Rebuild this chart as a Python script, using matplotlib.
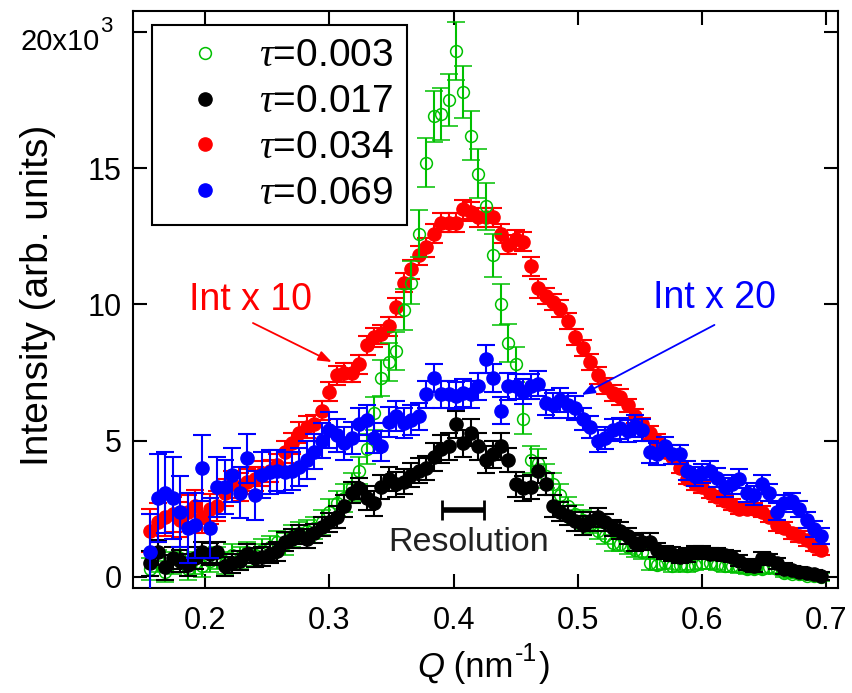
import matplotlib
matplotlib.use("Agg")
import matplotlib.pyplot as plt
from matplotlib.lines import Line2D

plt.rcParams['font.family'] = ['Liberation Sans', 'DejaVu Sans']
plt.rcParams['mathtext.fontset'] = 'custom'
plt.rcParams['mathtext.rm'] = 'Liberation Sans'
plt.rcParams['mathtext.it'] = 'Liberation Serif:italic'
plt.rcParams['mathtext.sf'] = 'Liberation Sans:italic'

Q = [0.156, 0.162, 0.168, 0.174, 0.180, 0.186, 0.192, 0.198, 0.204, 0.210,
     0.216, 0.222, 0.228, 0.234, 0.240, 0.246, 0.252, 0.258, 0.264, 0.270,
     0.276, 0.282, 0.288, 0.294, 0.300, 0.306, 0.312, 0.318, 0.324, 0.330,
     0.336, 0.342, 0.348, 0.354, 0.360, 0.366, 0.372, 0.378, 0.384, 0.390,
     0.396, 0.402, 0.408, 0.414, 0.420, 0.426, 0.432, 0.438, 0.444, 0.450,
     0.456, 0.462, 0.468, 0.474, 0.480, 0.486, 0.492, 0.498, 0.504, 0.510,
     0.516, 0.522, 0.528, 0.534, 0.540, 0.546, 0.552, 0.558, 0.564, 0.570,
     0.576, 0.582, 0.588, 0.594, 0.600, 0.606, 0.612, 0.618, 0.624, 0.630,
     0.636, 0.642, 0.648, 0.654, 0.660, 0.666, 0.672, 0.678, 0.684, 0.690,
     0.696]

# intensities in units of 10^3
I_003 = [0.3, 0.6, 0.2, 0.5, 0.7, 0.3, 0.5, 0.4, 0.6, 0.7,
         0.5, 0.8, 0.7, 0.9, 0.8, 1.0, 1.1, 1.3, 1.2, 1.5,
         1.6, 1.7, 1.8, 2.0, 2.4, 2.7, 2.9, 3.3, 3.9, 4.7,
         6.0, 7.3, 7.9, 8.3, 9.8, 10.8, 12.6, 15.2, 16.9, 17.0,
         17.5, 19.3, 17.8, 16.2, 14.8, 13.6, 11.8, 10.0, 8.6, 7.8,
         5.8, 4.3, 4.2, 3.7, 3.4, 3.0, 2.6, 2.3, 2.1, 1.9,
         1.7, 1.5, 1.25, 1.2, 1.1, 1.0, 0.9, 0.5, 0.45, 0.5,
         0.4, 0.45, 0.4, 0.45, 0.5, 0.5, 0.45, 0.4, 0.4, 0.35,
         0.3, 0.3, 0.3, 0.35, 0.3, 0.15, 0.1, 0.1, 0.05, 0.05, 0.0]
E_003 = [0.4, 0.4, 0.4, 0.4, 0.4, 0.4, 0.4, 0.4, 0.4, 0.4,
         0.4, 0.4, 0.4, 0.4, 0.4, 0.4, 0.4, 0.4, 0.4, 0.4,
         0.4, 0.4, 0.4, 0.45, 0.45, 0.45, 0.5, 0.5, 0.5, 0.55,
         0.6, 0.65, 0.7, 0.7, 0.75, 0.8, 0.85, 0.9, 0.95, 0.95,
         0.95, 1.05, 0.95, 0.9, 0.9, 0.85, 0.8, 0.75, 0.7, 0.65,
         0.55, 0.5, 0.5, 0.45, 0.4, 0.4, 0.35, 0.35, 0.35, 0.3,
         0.3, 0.3, 0.3, 0.25, 0.25, 0.25, 0.25, 0.25, 0.2, 0.2,
         0.2, 0.2, 0.2, 0.2, 0.2, 0.2, 0.2, 0.2, 0.2, 0.2,
         0.2, 0.2, 0.2, 0.2, 0.2, 0.15, 0.15, 0.15, 0.15, 0.15, 0.15]

I_017 = [0.5, 0.9, 0.35, 0.7, 0.6, 0.45, 0.7, 0.9, 0.85, 0.9,
         0.4, 0.5, 0.6, 0.85, 0.7, 0.75, 0.85, 0.95, 1.3, 1.4,
         1.55, 1.4, 1.6, 1.85, 2.0, 2.2, 2.6, 3.1, 3.25, 2.9,
         2.7, 3.3, 3.6, 3.4, 3.5, 3.75, 3.9, 4.0, 4.4, 4.7,
         4.8, 5.6, 4.9, 5.3, 4.8, 4.3, 4.5, 4.8, 4.3, 3.4,
         3.25, 3.3, 3.9, 3.4, 2.6, 2.4, 2.25, 2.05, 1.9, 2.05,
         2.2, 2.0, 1.8, 1.7, 1.5, 1.25, 1.3, 1.3, 1.0, 0.9,
         0.85, 0.75, 0.8, 0.9, 0.9, 0.85, 0.85, 0.8, 0.75, 0.6,
         0.45, 0.4, 0.7, 0.65, 0.5, 0.3, 0.25, 0.2, 0.15, 0.1, 0.05]
E_017 = [0.45, 0.45, 0.45, 0.4, 0.4, 0.4, 0.4, 0.4, 0.4, 0.4,
         0.35, 0.35, 0.35, 0.35, 0.35, 0.35, 0.35, 0.35, 0.35, 0.35,
         0.35, 0.35, 0.35, 0.35, 0.35, 0.4, 0.4, 0.4, 0.4, 0.45,
         0.45, 0.45, 0.45, 0.45, 0.45, 0.45, 0.45, 0.45, 0.5, 0.5,
         0.5, 0.5, 0.5, 0.5, 0.5, 0.5, 0.5, 0.5, 0.45, 0.45,
         0.45, 0.45, 0.45, 0.4, 0.4, 0.35, 0.35, 0.35, 0.35, 0.35,
         0.35, 0.3, 0.3, 0.3, 0.3, 0.3, 0.3, 0.3, 0.25, 0.25,
         0.25, 0.25, 0.25, 0.25, 0.25, 0.2, 0.2, 0.2, 0.2, 0.2,
         0.2, 0.2, 0.2, 0.2, 0.2, 0.2, 0.15, 0.15, 0.15, 0.15, 0.15]

I_034 = [1.7, 2.0, 2.2, 2.3, 2.1, 2.4, 2.6, 2.2, 2.5, 2.6,
         3.1, 3.4, 3.3, 3.5, 3.6, 3.8, 3.9, 4.1, 4.6, 4.9,
         5.3, 5.5, 5.6, 6.1, 6.8, 7.4, 7.5, 7.5, 7.8, 8.5,
         8.8, 8.9, 9.2, 9.9, 10.8, 11.3, 11.8, 12.1, 12.6, 13.0,
         13.0, 13.0, 13.5, 13.4, 13.2, 13.2, 13.2, 12.6, 12.2, 12.4,
         12.3, 11.4, 10.6, 10.3, 10.1, 9.85, 9.4, 8.8, 8.4, 7.9,
         7.4, 7.0, 6.75, 6.6, 6.3, 5.9, 5.6, 5.3, 5.0, 4.6,
         4.4, 4.0, 3.6, 3.4, 3.3, 3.1, 2.95, 2.8, 2.65, 2.5,
         2.5, 2.5, 2.4, 2.2, 1.9, 1.8, 1.6, 1.5, 1.35, 1.15, 1.0]
E_034 = [0.8, 0.7, 0.7, 0.65, 0.65, 0.6, 0.6, 0.6, 0.55, 0.55,
         0.5, 0.5, 0.5, 0.45, 0.45, 0.45, 0.4, 0.4, 0.4, 0.4,
         0.4, 0.4, 0.35, 0.35, 0.35, 0.35, 0.35, 0.35, 0.35, 0.35,
         0.35, 0.35, 0.35, 0.35, 0.35, 0.35, 0.35, 0.35, 0.35, 0.35,
         0.35, 0.35, 0.35, 0.35, 0.35, 0.35, 0.35, 0.35, 0.35, 0.35,
         0.35, 0.35, 0.35, 0.3, 0.3, 0.3, 0.3, 0.3, 0.3, 0.3,
         0.3, 0.3, 0.3, 0.3, 0.25, 0.25, 0.25, 0.25, 0.25, 0.25,
         0.25, 0.2, 0.2, 0.2, 0.2, 0.2, 0.2, 0.2, 0.2, 0.2,
         0.2, 0.2, 0.2, 0.2, 0.2, 0.2, 0.2, 0.2, 0.2, 0.2, 0.2]

I_069 = [0.9, 2.9, 3.1, 2.9, 2.4, 1.8, 1.9, 4.0, 1.8, 3.3,
         3.3, 3.75, 3.1, 4.35, 3.0, 3.75, 3.85, 3.9, 3.85, 3.9,
         4.05, 4.3, 4.6, 5.0, 5.4, 5.2, 4.9, 5.1, 5.6, 5.75,
         5.1, 4.8, 5.7, 5.9, 5.65, 5.75, 5.9, 6.7, 7.3, 6.7,
         6.7, 6.65, 6.75, 6.7, 7.0, 8.0, 7.3, 6.1, 7.0, 7.0,
         6.8, 7.0, 7.1, 6.4, 6.3, 6.5, 6.3, 6.2, 5.8, 5.5,
         5.0, 5.1, 5.4, 5.45, 5.35, 5.55, 5.4, 4.6, 4.5, 4.8,
         4.5, 4.5, 3.9, 3.7, 3.8, 3.9, 3.65, 3.3, 3.4, 3.6,
         3.1, 3.0, 3.4, 3.1, 2.4, 2.7, 2.8, 2.5, 2.1, 1.75, 1.5]
E_069 = [1.4, 1.6, 1.5, 1.5, 1.3, 1.3, 1.2, 1.2, 1.1, 1.1,
         1.0, 1.0, 0.95, 0.9, 0.9, 0.85, 0.8, 0.75, 0.75, 0.7,
         0.7, 0.7, 0.65, 0.65, 0.65, 0.6, 0.6, 0.6, 0.6, 0.55,
         0.55, 0.55, 0.55, 0.55, 0.55, 0.55, 0.5, 0.5, 0.5, 0.5,
         0.5, 0.5, 0.5, 0.5, 0.5, 0.5, 0.5, 0.5, 0.5, 0.45,
         0.45, 0.45, 0.45, 0.45, 0.45, 0.45, 0.45, 0.45, 0.4, 0.4,
         0.4, 0.4, 0.4, 0.4, 0.4, 0.4, 0.4, 0.4, 0.4, 0.35,
         0.35, 0.35, 0.35, 0.35, 0.35, 0.35, 0.35, 0.35, 0.35, 0.35,
         0.35, 0.35, 0.35, 0.3, 0.3, 0.3, 0.3, 0.3, 0.3, 0.3, 0.3]

labels = [r'$\tau$=0.003', r'$\tau$=0.017', r'$\tau$=0.034', r'$\tau$=0.069']
colors = ['#00C000', '#000000', '#FF0000', '#0000FF']

xticks = [0.2, 0.3, 0.4, 0.5, 0.6, 0.7]
xticklabels = ['0.2', '0.3', '0.4', '0.5', '0.6', '0.7']
yticks = [0, 5, 10, 15, 20]
yticklabels = ['0', '5', '10', '15', '']

res_Q, res_I, res_halfwidth = 0.4074, 2.46, 0.0169

W, H = 853, 693
fig = plt.figure(figsize=(W / 100, H / 100), dpi=100)
ax = fig.add_axes([133 / W, 105 / H, 705 / W, 577 / H])

MS = 9.5
ebkw = dict(ls='none', marker='o', elinewidth=1.5, capsize=6.5, capthick=1.5)
# drawing order: red, green, black, blue
ax.errorbar(Q, I_034, yerr=E_034, color=colors[2], mec=colors[2], ms=MS, zorder=2, **ebkw)
ax.errorbar(Q, I_003, yerr=E_003, color=colors[0], mfc='none', mec=colors[0],
            mew=1.1, ms=8.5, zorder=3, **ebkw)
ax.errorbar(Q, I_017, yerr=E_017, color=colors[1], ms=MS, zorder=4, **ebkw)
ax.errorbar(Q, I_069, yerr=E_069, color=colors[3], ms=MS, zorder=5, **ebkw)

# resolution bar
ax.errorbar([res_Q], [res_I], xerr=[res_halfwidth], color='black', ls='none',
            elinewidth=4, capsize=7, capthick=2, zorder=6)
ax.text(0.4124, 1.25, 'Resolution', fontsize=24.5, color='#222222',
        ha='center', va='center', zorder=7)

# annotations
ax.text(0.237, 10.17, 'Int x 10', color='red', fontsize=27, ha='center', va='center')
ax.annotate('', xy=(0.302, 7.89), xytext=(0.2386, 9.32),
            arrowprops=dict(arrowstyle='-|>,head_length=0.8,head_width=0.3',
                            color='red', lw=1.3, shrinkA=0, shrinkB=0))
ax.text(0.6103, 10.24, 'Int x 20', color='blue', fontsize=27, ha='center', va='center')
ax.annotate('', xy=(0.503, 6.68), xytext=(0.6099, 9.25),
            arrowprops=dict(arrowstyle='-|>,head_length=0.8,head_width=0.3',
                            color='blue', lw=1.3, shrinkA=0, shrinkB=0))

ax.set_xlim(0.1421, 0.7093)
ax.set_ylim(-0.404, 20.77)
ax.set_xticks(xticks)
ax.set_xticklabels(xticklabels)
ax.set_yticks(yticks)
ax.set_yticklabels(yticklabels)
ax.tick_params(direction='in', top=True, right=True, length=10, width=1.5,
               labelsize=22)
ax.tick_params(axis='x', pad=13)
ax.tick_params(axis='y', pad=8)
for s in ax.spines.values():
    s.set_linewidth(1.5)

# top y tick label "20x10^3"
fig.text(100 / W, 1 - 50 / H, '20x10', fontsize=21, ha='right', va='baseline')
fig.text(100 / W, 1 - 32 / H, '3', fontsize=16, ha='left', va='baseline')

# axis labels
fig.text(38 / W, 1 - 295 / H, 'Intensity (arb. units)', rotation=90,
         fontsize=28, ha='center', va='center')
t1 = fig.text(417 / W, 1 - 684 / H, 'Q', fontsize=25, style='italic',
              ha='left', va='bottom')
a2 = ax.annotate(' (nm', xy=(1, 0), xycoords=t1, fontsize=25, ha='left', va='bottom',
                 annotation_clip=False)
a3 = ax.annotate('-1', xy=(1, 0.55), xycoords=a2, xytext=(1, 0),
                 textcoords='offset points', fontsize=18, ha='left', va='bottom',
                 annotation_clip=False)
a4 = ax.annotate(')', xy=(1, 0), xycoords=(a3, a2), xytext=(1, 0),
                 textcoords='offset points', fontsize=25, ha='left', va='bottom',
                 annotation_clip=False)

handles = [Line2D([], [], ls='none', marker='o', ms=8.5, mfc='none', mec=colors[0], mew=1.1),
           Line2D([], [], ls='none', marker='o', ms=MS, color=colors[1]),
           Line2D([], [], ls='none', marker='o', ms=MS, color=colors[2]),
           Line2D([], [], ls='none', marker='o', ms=MS, color=colors[3])]
leg = ax.legend(handles, labels, loc='upper left', bbox_to_anchor=(0.027, 0.976),
                borderaxespad=0, fontsize=28, labelspacing=0.25, handletextpad=0.4,
                borderpad=0.35, fancybox=False, framealpha=1, edgecolor='black')
leg.get_frame().set_linewidth(1.5)
leg.set_zorder(10)

fig.savefig('out.png', dpi=100)
